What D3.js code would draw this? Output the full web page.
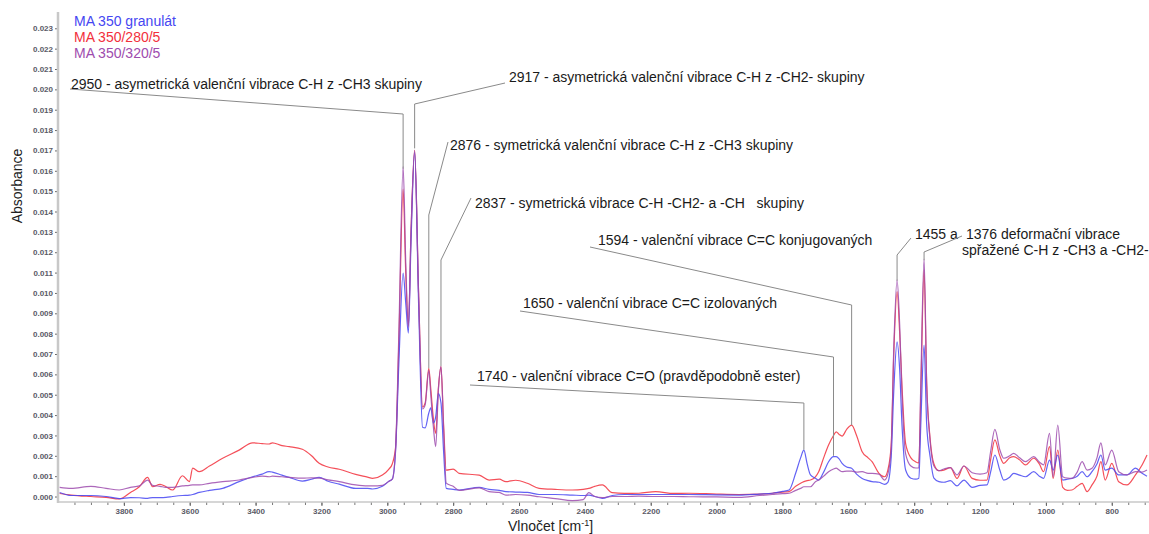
<!DOCTYPE html>
<html>
<head>
<meta charset="utf-8">
<script src="https://cdn.jsdelivr.net/npm/d3@7"></script>
<style>
  html, body { margin: 0; padding: 0; background: #fff; }
  svg { display: block; font-family: "Liberation Sans", Arial, sans-serif; }
  .note { white-space: pre; }
</style>
</head>
<body>
<svg id="chart" width="1149" height="534"></svg>
<script>
// absorbance values in units of 0.001
var UNIT = 0.001;

var wavenumbers = [
  3995, 3960, 3900, 3854, 3814, 3780, 3753, 3728, 3713, 3690, 3672, 3652, 3622, 3601, 3591, 3571,
  3540, 3500, 3450, 3409, 3380, 3359, 3349, 3320, 3298, 3258, 3230, 3207, 3180, 3146, 3096, 3060,
  3045, 3015, 2995, 2985, 2975, 2965, 2952, 2944, 2936, 2928, 2917, 2905, 2893, 2885, 2874, 2868,
  2860, 2853, 2845, 2837, 2829, 2821, 2800, 2782, 2721, 2691, 2660, 2640, 2610, 2575, 2539, 2490,
  2438, 2405, 2388, 2370, 2347, 2317, 2280, 2236, 2185, 2130, 2084, 2000, 1932, 1870, 1831, 1800,
  1780, 1760, 1745, 1735, 1725, 1715, 1700, 1690, 1675, 1660, 1645, 1637, 1628, 1619, 1605, 1590,
  1575, 1558, 1540, 1528, 1507, 1490, 1480, 1470, 1462, 1452, 1444, 1437, 1426, 1410, 1395, 1386,
  1380, 1370, 1362, 1352, 1340, 1325, 1310, 1290, 1270, 1249, 1224, 1200, 1179, 1168, 1155, 1140,
  1128, 1110, 1098, 1080, 1062, 1037, 1020, 1007, 989, 978, 964, 949, 935, 921, 905, 890,
  875, 860, 845, 833, 820, 800, 779, 754, 728, 708, 693
];

var granulat = [
  0.20, 0.05, 0.05, 0.00, -0.10, -0.05, -0.06, -0.09, -0.05, -0.05, -0.04, 0.00, 0.05, 0.07, 0.10, 0.20,
  0.30, 0.40, 0.73, 0.97, 1.10, 1.22, 1.20, 1.05, 0.94, 0.76, 0.85, 0.94, 0.75, 0.61, 0.40, 0.40,
  0.37, 0.50, 0.75, 0.85, 2.20, 6.50, 10.97, 9.50, 8.03, 12.50, 16.90, 9.50, 3.40, 3.37, 4.10, 4.35,
  3.60, 3.92, 5.07, 4.60, 2.20, 0.40, 0.35, 0.32, 0.45, 0.35, 0.30, 0.24, 0.22, 0.20, 0.10, 0.10,
  0.07, 0.05, 0.07, 0.00, -0.09, 0.05, 0.10, 0.10, 0.10, 0.10, 0.10, 0.08, 0.07, 0.12, 0.16, 0.25,
  0.32, 1.14, 1.90, 2.28, 1.60, 1.06, 0.90, 0.81, 1.20, 1.71, 1.96, 1.96, 1.85, 1.63, 1.45, 1.39,
  1.10, 0.89, 0.78, 0.73, 0.70, 0.60, 0.70, 1.90, 5.20, 7.60, 6.20, 3.50, 1.30, 0.90, 0.85, 0.90,
  3.50, 7.44, 3.50, 2.00, 0.90, 0.73, 0.70, 0.78, 0.52, 0.81, 0.45, 0.55, 0.57, 1.20, 2.04, 1.30,
  0.81, 0.95, 1.14, 1.05, 0.97, 1.22, 1.00, 0.89, 1.79, 1.30, 2.04, 0.81, 0.85, 0.89, 1.00, 1.22,
  0.97, 1.22, 1.60, 2.04, 1.30, 1.39, 1.06, 1.06, 1.39, 1.14, 1.00
];

var ma280 = [
  0.15, 0.07, 0.00, -0.04, -0.12, 0.20, 0.48, 0.94, 0.48, 0.60, 0.48, 0.32, 1.02, 0.73, 1.39, 1.22,
  1.50, 1.88, 2.28, 2.64, 2.60, 2.58, 2.64, 2.50, 2.45, 2.32, 2.00, 1.63, 1.45, 1.34, 1.09, 0.95,
  0.89, 1.06, 1.35, 1.60, 2.40, 7.50, 15.10, 11.00, 8.40, 13.00, 17.00, 10.00, 4.40, 4.60, 6.30, 5.30,
  3.80, 3.10, 5.30, 6.38, 3.50, 1.30, 1.35, 1.14, 1.05, 0.81, 0.85, 0.73, 0.80, 0.65, 0.40, 0.35,
  0.32, 0.35, 0.40, 0.50, 0.57, 0.19, 0.15, 0.16, 0.24, 0.15, 0.16, 0.12, 0.10, 0.12, 0.16, 0.22,
  0.24, 0.50, 0.65, 0.73, 0.78, 0.81, 0.97, 1.22, 1.90, 2.53, 3.00, 3.18, 3.05, 2.97, 3.30, 3.51,
  3.00, 2.20, 1.90, 1.71, 1.14, 0.97, 1.30, 2.50, 7.00, 10.06, 8.00, 5.40, 2.60, 1.90, 1.70, 1.65,
  5.00, 11.13, 5.50, 2.90, 1.60, 1.27, 1.30, 1.42, 0.89, 1.50, 0.89, 0.80, 0.81, 1.80, 2.78, 2.00,
  1.63, 1.90, 1.96, 1.80, 1.55, 1.88, 1.60, 1.22, 2.45, 0.89, 2.28, 0.45, 0.30, 0.32, 0.50, 0.65,
  0.24, 0.57, 1.00, 1.71, 0.81, 1.63, 0.73, 0.57, 1.06, 1.55, 2.04
];

var ma320 = [
  0.45, 0.40, 0.50, 0.40, 0.32, 0.45, 0.52, 0.81, 0.55, 0.50, 0.45, 0.45, 0.52, 0.55, 0.57, 0.57,
  0.65, 0.73, 0.81, 0.94, 1.00, 0.97, 1.00, 0.97, 0.94, 0.90, 0.92, 0.90, 0.82, 0.73, 0.57, 0.52,
  0.52, 0.55, 0.75, 0.85, 2.30, 8.00, 16.20, 11.50, 8.30, 13.00, 17.00, 10.00, 4.30, 4.50, 6.20, 5.00,
  3.40, 2.45, 5.20, 6.38, 3.30, 0.66, 0.50, 0.30, 0.42, 0.24, 0.20, 0.07, 0.10, 0.07, -0.01, -0.10,
  -0.20, -0.15, 0.19, 0.00, -0.05, 0.00, 0.00, 0.02, 0.00, 0.00, -0.01, -0.02, -0.04, 0.05, 0.10, 0.14,
  0.16, 0.30, 0.40, 0.48, 0.48, 0.48, 0.73, 0.81, 1.00, 1.22, 1.35, 1.39, 1.30, 1.22, 1.25, 1.25,
  1.20, 1.22, 1.14, 1.14, 1.10, 0.81, 1.10, 2.30, 7.30, 10.64, 8.40, 5.00, 2.10, 1.50, 1.40, 1.40,
  5.50, 11.66, 5.50, 2.80, 1.50, 1.27, 1.35, 1.42, 1.06, 1.50, 1.17, 1.10, 1.17, 2.20, 3.30, 2.30,
  1.88, 2.00, 2.12, 1.90, 1.71, 1.96, 1.70, 1.55, 3.10, 0.97, 3.51, 0.97, 0.90, 0.89, 1.20, 1.71,
  1.30, 1.39, 1.90, 2.64, 1.55, 2.28, 1.22, 1.06, 1.22, 1.20, 1.30
];

var seriesNames = ['MA 350 granulát', 'MA 350/280/5', 'MA 350/320/5'];
var seriesColors = ['#4646f2', '#f2303c', '#9e4cae'];

var yTicks = d3.range(0, 24).map(function(i){ return i * UNIT; });
var xTicks = [3800, 3600, 3400, 3200, 3000, 2800, 2600, 2400, 2200, 2000, 1800, 1600, 1400, 1200, 1000, 800];

var notes = [
  { text: '2950 - asymetrická valenční vibrace C-H z -CH3 skupiny', x: 71, y: 89, wn: 2952, path: [[70, 89], [404, 114]], bottom: 0.0161 },
  { text: '2917 - asymetrická valenční vibrace C-H z -CH2- skupiny', x: 509, y: 82, wn: 2917, path: [[505, 83], [415, 104]], bottom: 0.0171 },
  { text: '2876 - symetrická valenční vibrace C-H z -CH3 skupiny', x: 450, y: 150, wn: 2874, path: [[448, 142], [431, 215]], bottom: 0.0063 },
  { text: '2837 - symetrická vibrace C-H -CH2- a -CH   skupiny', x: 475, y: 208, wn: 2837, path: [[471, 198], [442, 260]], bottom: 0.0064 },
  { text: '1594 - valenční vibrace C=C konjugovaných', x: 598, y: 245, wn: 1590, path: [[590, 247], [853, 305]], bottom: 0.0035 },
  { text: '1650 - valenční vibrace C=C izolovaných', x: 523, y: 308, wn: 1645, path: [[520, 311], [835, 357]], bottom: 0.0020 },
  { text: '1740 - valenční vibrace C=O (pravděpodobně ester)', x: 477, y: 381, wn: 1735, path: [[470, 385], [805, 403]], bottom: 0.0023 },
  { text: '1455 a', x: 915, y: 239, wn: 1452, path: [[911, 238], [900, 255]], bottom: 0.0106 },
  { text: '1376 deformační vibrace', x: 966, y: 239, wn: 1370, path: [[962, 236], [926, 252]], bottom: 0.0116 },
  { text: 'spřažené C-H z -CH3 a -CH2-', x: 962, y: 255 }
];

var svg = d3.select('#chart');

var x = d3.scaleLinear().domain([4000, 690]).range([58, 1148]);
var y = d3.scaleLinear().domain([-0.00022, 0.0238]).range([501, 12]);

// axes
var yAxis = svg.append('g').attr('transform', 'translate(58,0)')
  .call(d3.axisLeft(y).tickValues(yTicks).tickFormat(d3.format('.3f')).tickSize(3).tickPadding(2));
yAxis.select('.domain').remove();
yAxis.selectAll('text').attr('font-size', 8).attr('fill', '#5a5a66').attr('font-weight', 'bold');
yAxis.selectAll('line').attr('stroke', '#666');

var xMinor = svg.append('g').attr('transform', 'translate(0,502)')
  .call(d3.axisBottom(x).tickValues(d3.range(3950, 690, -50)).tickFormat('').tickSize(3));
xMinor.select('.domain').remove();
xMinor.selectAll('line').attr('stroke', '#777');

var xAxis = svg.append('g').attr('transform', 'translate(0,502)')
  .call(d3.axisBottom(x).tickValues(xTicks).tickFormat(d3.format('d')).tickSize(4).tickPadding(2));
xAxis.select('.domain').remove();
xAxis.selectAll('text').attr('font-size', 8).attr('fill', '#5a5a66').attr('font-weight', 'bold');
xAxis.selectAll('line').attr('stroke', '#666');

svg.append('line').attr('x1', 58).attr('x2', 58).attr('y1', 12).attr('y2', 503)
  .attr('stroke', '#c8c8c8').attr('stroke-width', 2.5);
svg.append('line').attr('x1', 57).attr('x2', 1149).attr('y1', 502).attr('y2', 502)
  .attr('stroke', '#c8c8c8').attr('stroke-width', 1.5);

// axis titles
svg.append('text').attr('transform', 'translate(22,186) rotate(-90)')
  .attr('text-anchor', 'middle').attr('font-size', 14).attr('fill', '#222').text('Absorbance');

var xt = svg.append('text').attr('x', 508).attr('y', 531).attr('font-size', 14).attr('fill', '#222');
xt.append('tspan').text('Vlnočet [cm');
xt.append('tspan').attr('dy', -5).attr('font-size', 9).text('-1');
xt.append('tspan').attr('dy', 5).text(']');

// spectra
var line = d3.line()
  .x(function(d){ return x(d[0]); })
  .y(function(d){ return y(d[1] * UNIT); })
  .curve(d3.curveMonotoneX);

var series = [ma280, granulat, ma320];
var colorOf = [seriesColors[1], seriesColors[0], seriesColors[2]];
series.forEach(function(vals, i){
  svg.append('path')
    .datum(wavenumbers.map(function(w, j){ return [w, vals[j]]; }))
    .attr('d', line)
    .attr('fill', 'none')
    .attr('stroke', colorOf[i])
    .attr('stroke-width', 1.2)
    .attr('stroke-opacity', 0.85)
    .attr('stroke-linejoin', 'round');
});

// legend
seriesNames.forEach(function(name, i){
  svg.append('text').attr('x', 74).attr('y', 26 + i * 15.8)
    .attr('font-size', 14).attr('fill', seriesColors[i]).text(name);
});

// annotations with leader lines
notes.forEach(function(n){
  if ( n.path ){
    var pts = n.path.concat([[x(n.wn), y(n.bottom)]]);
    pts[1][0] = x(n.wn);
    svg.append('path')
      .attr('d', d3.line()(pts))
      .attr('fill', 'none')
      .attr('stroke', '#8a8a8a')
      .attr('stroke-width', 1);
  }
  svg.append('text').attr('class', 'note').attr('x', n.x).attr('y', n.y)
    .attr('font-size', 14).attr('fill', '#1a1a1a').text(n.text);
});
</script>
</body>
</html>
